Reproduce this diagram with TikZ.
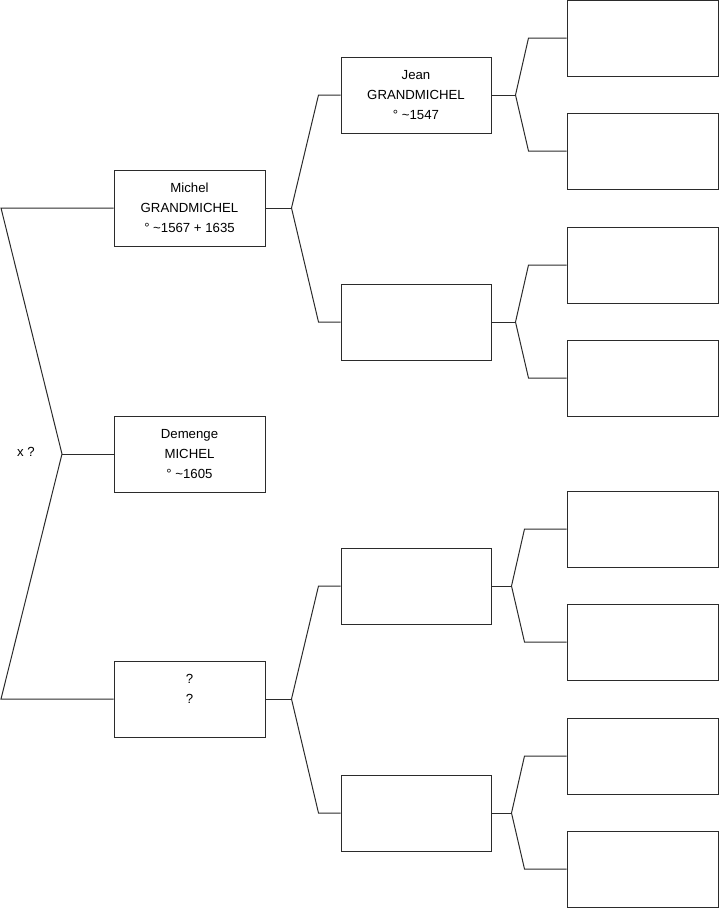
\documentclass[tikz,border=0pt]{standalone}
\usepackage{fontspec}
\setmainfont{Liberation Sans}
\usepackage{tikz}
\usetikzlibrary{positioning}
\definecolor{tratto}{HTML}{2B2B2B}

\begin{document}
\begin{tikzpicture}[x=1pt, y=-1pt,
    persona/.style={draw=tratto, line width=1pt, fill=white,
        minimum width=151pt, minimum height=76pt, inner sep=0pt,
        align=center, font=\fontsize{13.2}{20}\selectfont},
    ramo/.style={draw=tratto, line width=1pt, line join=miter}]

        % Cornice
        \useasboundingbox (0,0) rectangle (719,908);

        % Colonna 1
        \node[persona] (michel) at (189.5,208) {Michel\\GRANDMICHEL\\° \textasciitilde1567 + 1635};
        \node[persona] (demenge) at (189.5,454) {Demenge\\MICHEL\\° \textasciitilde1605};
        \node[persona] (ignoto) at (189.5,699) {?\\?\\~};

        % Colonna 2
        \node[persona, minimum width=150pt] (jean) at (416,95) {Jean\\GRANDMICHEL\\° \textasciitilde1547};
        \node[persona, minimum width=150pt] (p2) at (416,322) {};
        \node[persona, minimum width=150pt] (p3) at (416,586) {};
        \node[persona, minimum width=150pt] (p4) at (416,813) {};

        % Colonna 3
        \node[persona] (t1) at (642.5,38) {};
        \node[persona] (t2) at (642.5,151) {};
        \node[persona] (t3) at (642.5,265) {};
        \node[persona] (t4) at (642.5,378) {};
        \node[persona] (t5) at (642.5,529) {};
        \node[persona] (t6) at (642.5,642) {};
        \node[persona] (t7) at (642.5,756) {};
        \node[persona] (t8) at (642.5,869) {};

        % Radice a sinistra
        \coordinate (radice) at (62,454);
        \coordinate (alto) at (1,208);
        \coordinate (basso) at (1,699);
        \draw[ramo] (michel.west) -- (alto) -- (radice) -- (basso) -- (ignoto.west);
        \draw[ramo] (radice) -- (demenge.west);
        \node[font=\fontsize{13.2}{20}\selectfont] (xq) at (26,452) {x ?};

        % Forche colonna 1 -> 2
        \coordinate (f1) at ([xshift=26pt]michel.east);
        \draw[ramo] (michel.east) -- (f1);
        \draw[ramo] (jean.west) -- ([xshift=-22pt]jean.west) -- (f1) -- ([xshift=-22pt]p2.west) -- (p2.west);
        \coordinate (f2) at ([xshift=26pt]ignoto.east);
        \draw[ramo] (ignoto.east) -- (f2);
        \draw[ramo] (p3.west) -- ([xshift=-22pt]p3.west) -- (f2) -- ([xshift=-22pt]p4.west) -- (p4.west);

        % Forche colonna 2 -> 3
        \coordinate (f3) at ([xshift=24pt]jean.east);
        \draw[ramo] (jean.east) -- (f3);
        \draw[ramo] (t1.west) -- ([xshift=-38pt]t1.west) -- (f3) -- ([xshift=-38pt]t2.west) -- (t2.west);
        \coordinate (f4) at ([xshift=24pt]p2.east);
        \draw[ramo] (p2.east) -- (f4);
        \draw[ramo] (t3.west) -- ([xshift=-38pt]t3.west) -- (f4) -- ([xshift=-38pt]t4.west) -- (t4.west);
        \coordinate (f5) at ([xshift=20pt]p3.east);
        \draw[ramo] (p3.east) -- (f5);
        \draw[ramo] (t5.west) -- ([xshift=-42pt]t5.west) -- (f5) -- ([xshift=-42pt]t6.west) -- (t6.west);
        \coordinate (f6) at ([xshift=20pt]p4.east);
        \draw[ramo] (p4.east) -- (f6);
        \draw[ramo] (t7.west) -- ([xshift=-42pt]t7.west) -- (f6) -- ([xshift=-42pt]t8.west) -- (t8.west);
    \end{tikzpicture}
\end{document}
